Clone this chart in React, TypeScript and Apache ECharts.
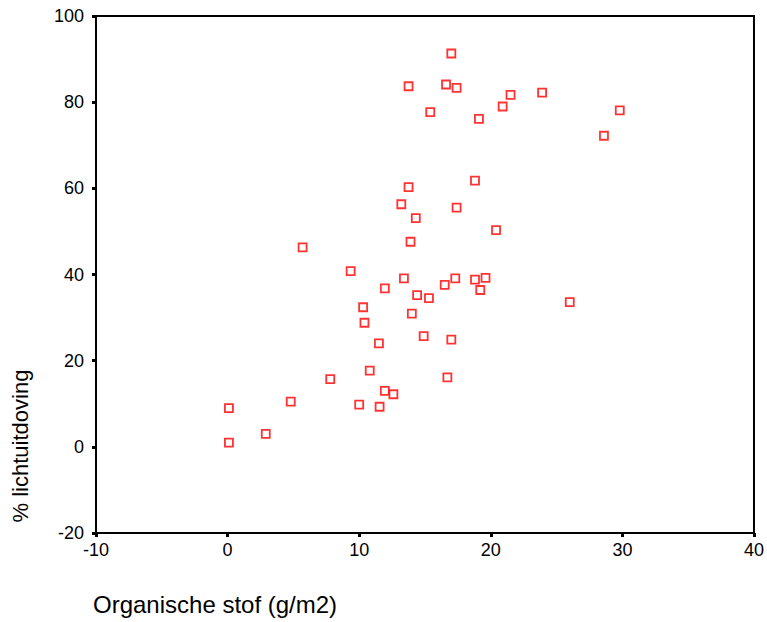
import React, { useEffect, useRef } from "react";
import * as echarts from "echarts";

// Organische stof (g/m2) values
const organischeStof: number[] = [
  17.0, 13.75, 16.6, 17.4, 21.5, 23.9, 20.9, 15.4, 19.1, 29.8,
  28.6, 18.8, 13.75, 13.2, 17.4, 14.3, 20.4, 13.9, 5.7, 9.35,
  13.4, 17.3, 18.8, 19.6, 11.95, 16.5, 19.2, 14.4, 15.3, 26.0,
  10.3, 14.0, 10.4, 14.9, 17.0, 11.5, 10.8, 7.8, 16.7, 11.95,
  12.6, 4.8, 10.0, 11.55, 0.1, 2.9, 0.1,
];

// % lichtuitdoving values
const lichtuitdoving: number[] = [
  91.3, 83.7, 84.1, 83.3, 81.7, 82.2, 79.0, 77.7, 76.1, 78.1,
  72.2, 61.8, 60.3, 56.3, 55.5, 53.1, 50.3, 47.6, 46.3, 40.8,
  39.1, 39.1, 38.8, 39.2, 36.8, 37.6, 36.4, 35.2, 34.5, 33.6,
  32.4, 30.9, 28.8, 25.7, 24.9, 24.0, 17.7, 15.7, 16.1, 13.0,
  12.2, 10.5, 9.8, 9.3, 9.0, 3.0, 1.0,
];

const xTitle = "Organische stof (g/m2)";
const yTitle = "% lichtuitdoving";

const FONT = "Liberation Sans, Arial, Helvetica, sans-serif";

export default function App() {
  const ref = useRef<HTMLDivElement>(null);

  useEffect(() => {
    if (!ref.current) return;
    const chart = echarts.init(ref.current, undefined, { renderer: "svg" });
    const points = organischeStof.map((x, i) => [x, lichtuitdoving[i]]);
    chart.setOption({
      animation: false,
      backgroundColor: "#ffffff",
      grid: {
        left: 96,
        top: 16,
        right: 12,
        bottom: 89,
        show: true,
        borderColor: "#000000",
        borderWidth: 2,
        backgroundColor: "transparent",
      },
      xAxis: {
        type: "value",
        min: -10,
        max: 40,
        interval: 10,
        splitLine: { show: false },
        axisLine: { show: true, onZero: false, lineStyle: { color: "#000", width: 2 } },
        axisTick: { show: true, length: 4, lineStyle: { color: "#000", width: 3 } },
        axisLabel: {
          color: "#000",
          fontSize: 18,
          fontFamily: FONT,
          margin: 8,
        },
      },
      yAxis: {
        type: "value",
        min: -20,
        max: 100,
        interval: 20,
        splitLine: { show: false },
        axisLine: { show: true, onZero: false, lineStyle: { color: "#000", width: 2 } },
        axisTick: { show: true, length: 4, lineStyle: { color: "#000", width: 3 } },
        axisLabel: {
          color: "#000",
          fontSize: 18,
          fontFamily: FONT,
          margin: 12,
        },
      },
      series: [
        {
          type: "scatter",
          data: points,
          symbol: "rect",
          symbolSize: 8,
          itemStyle: {
            color: "#ffffff",
            borderColor: "#ff0000",
            borderWidth: 1.8,
          },
        },
      ],
      graphic: [
        {
          type: "text",
          left: 93,
          top: 592,
          style: {
            text: xTitle,
            fontSize: 24,
            fontFamily: FONT,
            fill: "#000",
          },
        },
        {
          type: "text",
          x: 20,
          y: 446,
          rotation: Math.PI / 2,
          style: {
            text: yTitle,
            fontSize: 22,
            fontFamily: FONT,
            fill: "#000",
            align: "center",
            verticalAlign: "middle",
          },
        },
      ],
    });
    return () => chart.dispose();
  }, []);

  return (
    <div
      ref={ref}
      style={{ position: "fixed", left: 0, top: 0, width: 767, height: 622 }}
    />
  );
}
